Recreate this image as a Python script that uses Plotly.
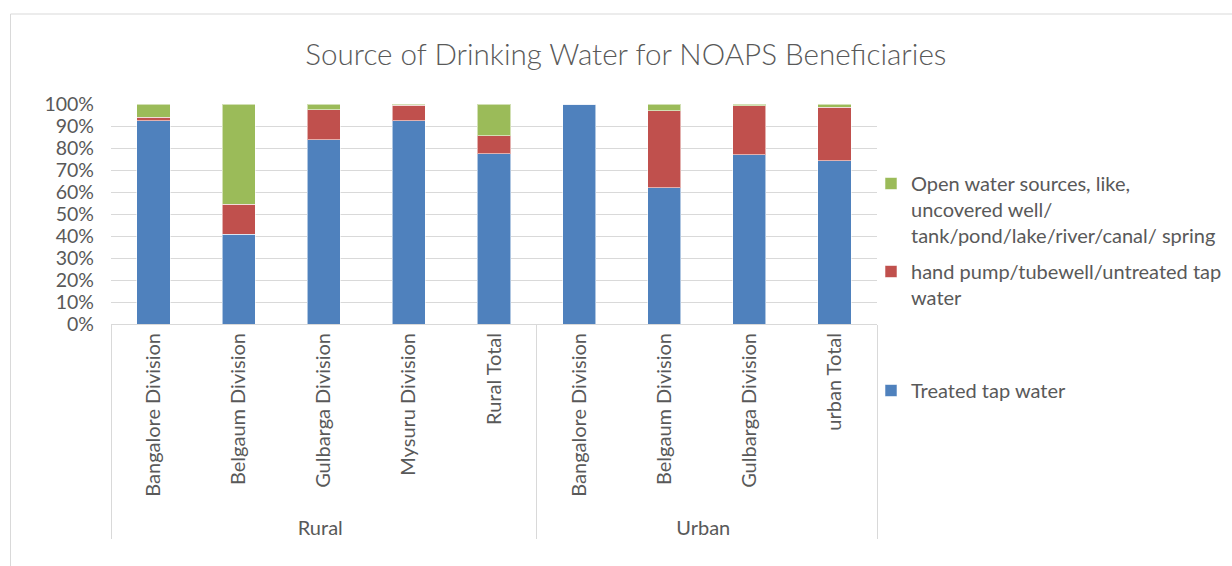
import plotly.graph_objects as go

# Division-level shares (%) of each drinking water source
groups = ["Rural"] * 5 + ["Urban"] * 4
divisions = [
    "Bangalore Division", "Belgaum Division", "Gulbarga Division",
    "Mysuru Division", "Rural Total",
    "Bangalore Division", "Belgaum Division", "Gulbarga Division",
    "urban Total",
]
treated_tap = [92.3, 40.7, 83.8, 92.4, 77.4, 100.0, 61.9, 76.9, 74.2]
hand_pump = [1.6, 13.8, 13.5, 7.0, 8.2, 0.0, 35.1, 22.2, 24.4]
open_sources = [6.1, 45.5, 2.7, 0.6, 14.4, 0.0, 3.0, 0.9, 1.4]

series_names = [
    "Treated tap water",
    "hand pump/tubewell/untreated tap<br>water",
    "Open water sources, like,<br>uncovered well/<br>tank/pond/lake/river/canal/ spring",
]
series_values = [treated_tap, hand_pump, open_sources]
series_colors = ["#4F81BD", "#C0504D", "#9BBB59"]
series_legends = ["legend3", "legend2", "legend"]

FONT = "Lato"
TEXT = "#595959"
GRID = "#D9D9D9"

fig = go.Figure()
for name, vals, color, leg in zip(series_names, series_values, series_colors, series_legends):
    fig.add_trace(go.Bar(
        x=[groups, divisions],
        y=vals,
        name=name,
        legend=leg,
        showlegend=True,
        marker=dict(color=color, line=dict(color="rgba(255,255,255,0.55)", width=1)),
    ))

W, H = 1232, 566
L, R, T, B = 111, 355, 104, 242

def py(px):
    # pixel row -> paper y
    return (H - B - px) / (H - T - B)

def px_(x):
    # pixel column -> paper x
    return (x - L) / (W - L - R)

legend_style = dict(
    font=dict(family=FONT, size=20, color=TEXT),
    bgcolor="rgba(0,0,0,0)",
    xref="container", yref="container",
    xanchor="left", yanchor="top",
    valign="top",
    itemwidth=30,
)

fig.update_layout(
    width=W, height=H,
    margin=dict(l=L, r=R, t=T, b=B, autoexpand=False),
    paper_bgcolor="white",
    plot_bgcolor="white",
    barmode="stack",
    bargap=0.61,
    showlegend=True,
    font=dict(family=FONT, color=TEXT),
    title=dict(
        text="Source of Drinking Water for NOAPS Beneficiaries",
        x=0.508, xanchor="center",
        y=1 - 55 / H, yanchor="middle",
        font=dict(family=FONT, size=29.6, color=TEXT, weight=300),
    ),
    legend=dict(x=871 / W, y=1 - 164 / H, **legend_style),
    legend2=dict(x=871 / W, y=1 - 252 / H, **legend_style),
    legend3=dict(x=871 / W, y=1 - 371 / H, **legend_style),
    xaxis=dict(
        type="multicategory",
        tickangle=-90,
        tickfont=dict(family=FONT, size=20, color=TEXT),
        showline=True, linecolor=GRID, linewidth=1,
        showdividers=True, dividercolor=GRID, dividerwidth=1,
        ticks="",
    ),
    yaxis=dict(
        range=[0, 100],
        dtick=10,
        ticksuffix="%",
        tickfont=dict(family=FONT, size=19.5, color=TEXT),
        showgrid=True, gridcolor=GRID, gridwidth=1,
        zeroline=False,
        showline=False,
        ticks="",
        ticklabelstandoff=16,
    ),
    shapes=[
        dict(type="rect", xref="paper", yref="paper",
             x0=px_(10.5), x1=px_(1300), y0=py(14), y1=py(700),
             line=dict(color=GRID, width=1), fillcolor="rgba(0,0,0,0)",
             layer="below"),
    ],
)

fig.write_html("out.html")
